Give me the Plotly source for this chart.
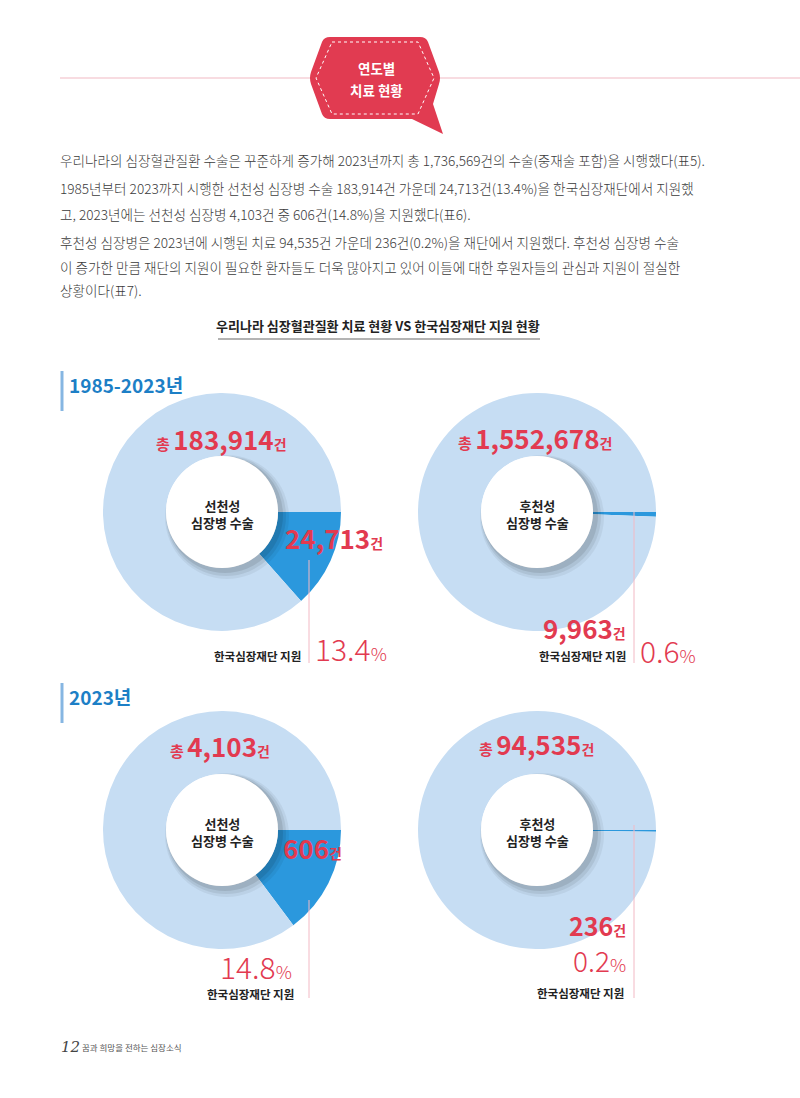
import plotly.graph_objects as go

# ---------------- data ----------------
periods = ["1985-2023년", "2023년"]
surgery_types = ["선천성<br>심장병 수술", "후천성<br>심장병 수술"]
# order: [1985-2023 선천성, 1985-2023 후천성, 2023 선천성, 2023 후천성]
totals = [183914, 1552678, 4103, 94535]
supported = [24713, 9963, 606, 236]
support_pct = [13.4, 0.6, 14.8, 0.2]
slice_labels = ["한국심장재단 지원", "기타"]

paragraph = [
    "우리나라의 심장혈관질환 수술은 꾸준하게 증가해 2023년까지 총 1,736,569건의 수술(중재술 포함)을 시행했다(표5).",
    "1985년부터 2023까지 시행한 선천성 심장병 수술 183,914건 가운데 24,713건(13.4%)을 한국심장재단에서 지원했",
    "고, 2023년에는 선천성 심장병 4,103건 중 606건(14.8%)을 지원했다(표6).",
    "후천성 심장병은 2023년에 시행된 치료 94,535건 가운데 236건(0.2%)을 재단에서 지원했다. 후천성 심장병 수술",
    "이 증가한 만큼 재단의 지원이 필요한 환자들도 더욱 많아지고 있어 이들에 대한 후원자들의 관심과 지원이 절실한",
    "상황이다(표7).",
]
chart_title = "우리나라 심장혈관질환 치료 현황 VS 한국심장재단 지원 현황"
badge_lines = ["연도별", "치료 현황"]
support_label = "한국심장재단 지원"
page_no = "12"
footer_text = "꿈과 희망을 전하는 심장소식"

# ---------------- style ----------------
W, H = 800, 1098
FONT = "Noto Sans CJK KR"
RED = "#e23a50"
LIGHT = "#c6ddf3"
DARK = "#2b98dd"
BLUE_TXT = "#1d7fc6"
PINK_LINE = "#f2b9c4"

centers = [(222, 512), (537, 512), (222, 830), (537, 830)]
R = 119
HOLE_R = 56

fig = go.Figure()

# hidden full-page axis for shapes / annotations
fig.add_trace(go.Scatter(x=[0, W], y=[0, H], mode="markers",
                         marker=dict(opacity=0), hoverinfo="skip", showlegend=False))

for i, (cx, cy) in enumerate(centers):
    fig.add_trace(go.Pie(
        values=[supported[i], totals[i] - supported[i]],
        labels=slice_labels,
        sort=False, direction="clockwise", rotation=90,
        marker=dict(colors=[DARK, LIGHT], line=dict(width=0)),
        textinfo="none", hoverinfo="label+value", showlegend=False,
        hole=HOLE_R / R,
        domain=dict(x=[(cx - R) / W, (cx + R) / W],
                    y=[1 - (cy + R) / H, 1 - (cy - R) / H]),
    ))

shapes = []
annotations = []


def ann(x, y, text, size, color="#222", weight="normal", xanchor="center",
        yanchor="middle", family=FONT, align="center"):
    annotations.append(dict(x=x, y=y, xref="x", yref="y", text=text, showarrow=False,
                            xanchor=xanchor, yanchor=yanchor, align=align, borderpad=0,
                            font=dict(family=family, size=size, color=color, weight=weight)))


# header line and badge
shapes.append(dict(type="line", x0=60, x1=800, y0=78, y1=78, xref="x", yref="y",
                   line=dict(color=PINK_LINE, width=1.2), layer="above"))
badge = ("M 330,37 L 420,37 Q 426,37 428,42 L 439,72 Q 441,78 439,84 L 433,104 "
         "L 443,134 L 412,119 L 330,119 Q 324,119 322,114 L 311,84 Q 309,78 311,72 "
         "L 322,42 Q 324,37 330,37 Z")
shapes.append(dict(type="path", path=badge, xref="x", yref="y",
                   fillcolor="#e13b51", line=dict(width=0), layer="above"))
badge_in = ("M 332,42 L 418,42 L 434,78 L 418,114 L 332,114 L 316,78 Z")
shapes.append(dict(type="path", path=badge_in, xref="x", yref="y",
                   fillcolor="rgba(0,0,0,0)", line=dict(color="white", width=1, dash="dot"),
                   layer="above"))
ann(376, 68, badge_lines[0], 13.5, "white", "bold")
ann(376, 90, badge_lines[1], 13.5, "white", "bold")

# paragraph
line_y = [160, 188, 214, 242, 267, 290]
for t, y in zip(paragraph, line_y):
    ann(59, y, t, 13.6, "#3b3b3b", 300, xanchor="left")

# chart title
ann(378, 325, chart_title, 13, "#222", "bold")
shapes.append(dict(type="line", x0=218, x1=540, y0=339, y1=339, xref="x", yref="y",
                   line=dict(color="#9a9a9a", width=1.5), layer="above"))

# section headers
for (py, label) in [(384, periods[0]), (696, periods[1])]:
    shapes.append(dict(type="line", x0=62, x1=62, y0=py - 13, y1=py + 27, xref="x", yref="y",
                       line=dict(color="#86b6e2", width=3), layer="above"))
    ann(68, py, label, 19, BLUE_TXT, "bold", xanchor="left")

# inner white circles with soft shadow
for i, (cx, cy) in enumerate(centers):
    for dr, off, op in [(6, 5, 0.05), (4, 4, 0.07), (2, 3, 0.09)]:
        shapes.append(dict(type="circle", xref="x", yref="y",
                           x0=cx - HOLE_R - dr + off, x1=cx + HOLE_R + dr + off,
                           y0=cy - HOLE_R - dr + off, y1=cy + HOLE_R + dr + off,
                           fillcolor=f"rgba(0,0,0,{op})", line=dict(width=0), layer="above"))
    shapes.append(dict(type="circle", xref="x", yref="y",
                       x0=cx - HOLE_R, x1=cx + HOLE_R, y0=cy - HOLE_R, y1=cy + HOLE_R,
                       fillcolor="white", line=dict(width=0), layer="above"))
    ann(cx, cy + 2, surgery_types[i % 2], 13, "#222", "bold")


def big(num, numsize=26, unitsize=14):
    return (f"<span style='font-size:{numsize}px'>{num}</span>"
            f"<span style='font-size:{unitsize}px'>건</span>")


# totals above each pie
total_pos = [(221, 438), (535, 437), (220, 745), (536, 743)]
for i, (x, y) in enumerate(total_pos):
    txt = f"<span style='font-size:15px'>총 </span>" + big(f"{totals[i]:,}")
    ann(x, y, txt, 15, RED, "bold")


def pct_txt(p, size=30):
    return (f"<span style='font-size:{size}px'>{p}</span>"
            f"<span style='font-size:18px'>%</span>")


# pie 1
ann(284, 537, big(f"{supported[0]:,}"), 15, RED, "bold", xanchor="left")
shapes.append(dict(type="line", x0=309, x1=309, y0=560, y1=663, xref="x", yref="y",
                   line=dict(color=PINK_LINE, width=1), layer="above"))
ann(302, 656, support_label, 11.5, "#222", "bold", xanchor="right")
ann(314, 648, pct_txt(support_pct[0]), 18, RED, 300, xanchor="left")

# pie 2
shapes.append(dict(type="line", x0=634, x1=634, y0=512, y1=663, xref="x", yref="y",
                   line=dict(color=PINK_LINE, width=1), layer="above"))
ann(627, 627, big(f"{supported[1]:,}"), 15, RED, "bold", xanchor="right")
ann(627, 656, support_label, 11.5, "#222", "bold", xanchor="right")
ann(639, 650, pct_txt(support_pct[1]), 18, RED, 300, xanchor="left")

# pie 3
ann(282, 847, big(f"{supported[2]:,}"), 15, RED, "bold", xanchor="left")
shapes.append(dict(type="line", x0=309, x1=309, y0=900, y1=998, xref="x", yref="y",
                   line=dict(color=PINK_LINE, width=1), layer="above"))
ann(293, 966, pct_txt(support_pct[2]), 18, RED, 300, xanchor="right")
ann(250, 994, support_label, 11.5, "#222", "bold")

# pie 4
shapes.append(dict(type="line", x0=634, x1=634, y0=825, y1=998, xref="x", yref="y",
                   line=dict(color=PINK_LINE, width=1), layer="above"))
ann(627, 925, big(f"{supported[3]:,}", 25, 14), 15, RED, "bold", xanchor="right")
ann(627, 960, pct_txt(support_pct[3], 28), 18, RED, 300, xanchor="right")
ann(625, 993, support_label, 11.5, "#222", "bold", xanchor="right")

# footer
ann(60, 1047, f"<i>{page_no}</i>", 15, "#444", "normal", xanchor="left", family="DejaVu Serif")
ann(81, 1047, footer_text, 8.5, "#555", "normal", xanchor="left")

fig.update_layout(
    width=W, height=H, autosize=False,
    margin=dict(l=0, r=0, t=0, b=0, pad=0),
    paper_bgcolor="white", plot_bgcolor="white",
    xaxis=dict(range=[0, W], visible=False, fixedrange=True, domain=[0, 1]),
    yaxis=dict(range=[H, 0], visible=False, fixedrange=True, domain=[0, 1]),
    shapes=shapes, annotations=annotations,
    showlegend=False,
)

fig.write_html("out.html", config={"displayModeBar": False})
